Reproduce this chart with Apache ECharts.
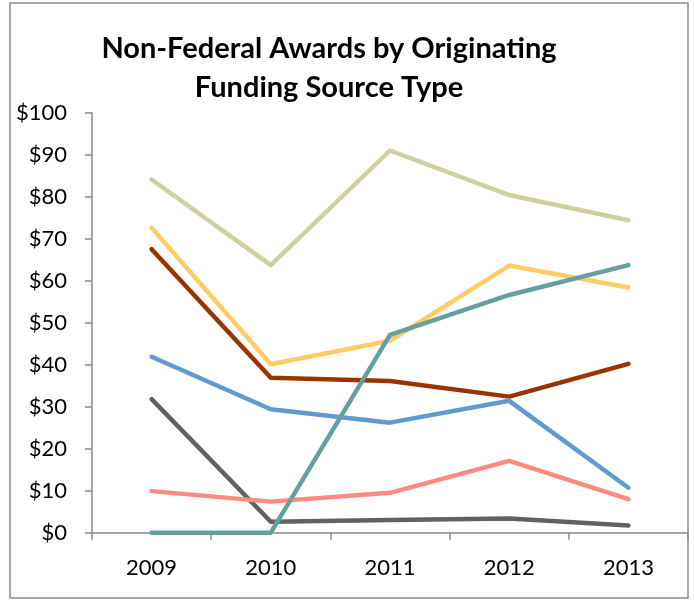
<!DOCTYPE html>
<html>
<head>
<meta charset="utf-8">
<script src="https://cdn.jsdelivr.net/npm/echarts@6/dist/echarts.min.js"></script>
<style>
html,body{margin:0;padding:0;background:#fff;}
#chart{width:694px;height:601px;}
</style>
</head>
<body>
<div id="chart"></div>
<script>
const years = ['2009', '2010', '2011', '2012', '2013'];
const khaki  = [84.1, 63.7, 91.0, 80.4, 74.4];
const yellow = [72.6, 40.1, 45.7, 63.6, 58.4];
const darkRed = [67.5, 36.9, 36.1, 32.4, 40.2];
const blue   = [41.9, 29.4, 26.2, 31.4, 10.7];
const gray   = [31.8, 2.6, 3.0, 3.4, 1.7];
const salmon = [9.9, 7.4, 9.5, 17.1, 8.0];
const teal   = [0, 0, 47.1, 56.6, 63.7];
const yTicks = [0, 10, 20, 30, 40, 50, 60, 70, 80, 90, 100];

const seriesDefs = [
  {name: 'A', data: khaki,   color: '#cfcf9f'},
  {name: 'B', data: yellow,  color: '#ffcc66'},
  {name: 'C', data: darkRed, color: '#993300'},
  {name: 'D', data: blue,    color: '#5f9ad0'},
  {name: 'E', data: gray,    color: '#616161'},
  {name: 'F', data: salmon,  color: '#ff8a82'},
  {name: 'G', data: teal,    color: '#64a0a0'}
];

const chart = echarts.init(document.getElementById('chart'), null, {renderer: 'canvas'});
const axisColor = '#8a8a8a';
chart.setOption({
  animation: false,
  backgroundColor: '#ffffff',
  textStyle: {fontFamily: 'Lato'},
  title: {
    text: 'Non-Federal Awards by Originating\nFunding Source Type',
    left: 324,
    top: 24,
    textAlign: 'center',
    textStyle: {fontFamily: 'Lato', fontWeight: 'bold', fontSize: 29, lineHeight: 39, color: '#000'}
  },
  graphic: [{
    type: 'rect',
    shape: {x: 10, y: 3, width: 678, height: 595},
    style: {fill: 'none', stroke: '#8c8c8c', lineWidth: 1.5},
    silent: true,
    z: 100
  }],
  grid: {left: 92, right: 6, top: 112.7, bottom: 68.3, containLabel: false},
  xAxis: {
    type: 'category',
    data: years,
    boundaryGap: true,
    axisLine: {lineStyle: {color: axisColor, width: 1.5}},
    axisTick: {show: true, length: 7, lineStyle: {color: axisColor, width: 1.5}},
    axisLabel: {color: '#000', fontSize: 22, margin: 24, fontFamily: 'Lato'},
    splitLine: {show: false}
  },
  yAxis: {
    type: 'value',
    min: yTicks[0],
    max: yTicks[yTicks.length - 1],
    interval: 10,
    axisLine: {show: true, lineStyle: {color: axisColor, width: 1.5}},
    axisTick: {show: true, length: 7, lineStyle: {color: axisColor, width: 1.5}},
    axisLabel: {color: '#000', fontSize: 22, margin: 25, fontFamily: 'Lato', formatter: v => '$' + v},
    splitLine: {show: false}
  },
  series: seriesDefs.map(s => ({
    name: s.name,
    type: 'line',
    data: s.data,
    symbol: 'none',
    lineStyle: {color: s.color, width: 4.5, cap: 'round', join: 'round'},
    itemStyle: {color: s.color}
  }))
});
</script>
</body>
</html>
